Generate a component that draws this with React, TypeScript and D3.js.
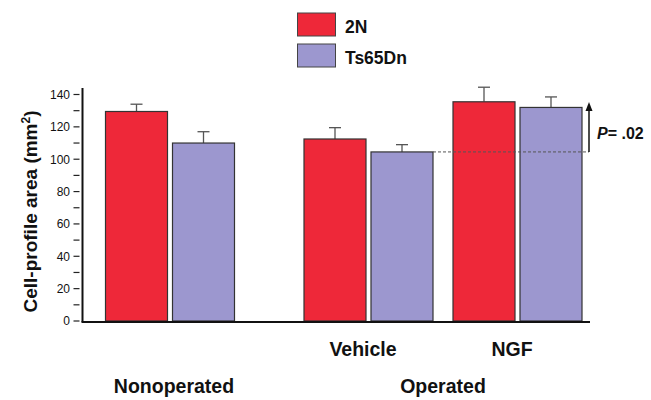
import React from "react";
import * as d3 from "d3";

const groups = ["Nonoperated", "Vehicle", "NGF"];
const groupSection = [0, 1, 1];
const sections = ["Nonoperated", "Operated"];
const series = ["2N", "Ts65Dn"];
const means2N = [129.5, 112.5, 135.5];
const meansTs = [110, 104.5, 132];
const err2N = [4.5, 7, 9];
const errTs = [7, 4.5, 6.5];
const yTicks = [0, 20, 40, 60, 80, 100, 120, 140];
const yMinorTicks = [10, 30, 50, 70, 90, 110, 130];
const colors = ["#EE2839", "#9C97CF"];

export default function App() {
  const W = 651, H = 400;
  const y = d3.scaleLinear().domain([0, 140]).range([321, 94.5]);
  const step = 149;
  const sectionGap = 49.5;
  const barW = 62;
  const inner = 5;
  const groupCenter = (i: number) => 170 + i * step + groupSection[i] * sectionGap;
  const font = "'Liberation Sans', Arial, sans-serif";
  const vals = [means2N, meansTs];
  const errs = [err2N, errTs];
  const refVal = meansTs[1];
  const sectionCenters = sections.map((_, s) => {
    const idx = groups.map((_, i) => i).filter((i) => groupSection[i] === s);
    return d3.mean(idx.map(groupCenter)) as number;
  });
  const arrowX = 589;
  const arrowTop = y(means2N[2] - 2);
  return (
    <svg width={W} height={H} style={{ position: "absolute", left: 0, top: 0 }} fontFamily={font}>
      <rect width={W} height={H} fill="#fff" />
      {/* legend */}
      {series.map((s, k) => (
        <g key={s}>
          <rect x={297.5} y={13 + k * 31} width={38} height={23} fill={colors[k]} stroke="#444" strokeWidth={1} />
          <text x={345} y={33 + k * 31} fontSize={17.5} fontWeight="bold" fill="#111">{s}</text>
        </g>
      ))}
      {/* bars */}
      {groups.map((g, i) =>
        series.map((s, k) => {
          const x0 = groupCenter(i) - barW - inner / 2 + k * (barW + inner);
          const v = vals[k][i];
          const e = errs[k][i];
          const cx = x0 + barW / 2;
          return (
            <g key={g + s}>
              <line x1={cx} x2={cx} y1={y(v)} y2={y(v + e)} stroke="#555" strokeWidth={1.3} />
              <line x1={cx - 6} x2={cx + 6} y1={y(v + e)} y2={y(v + e)} stroke="#555" strokeWidth={1.3} />
              <rect x={x0} y={y(v)} width={barW} height={y(0) - y(v)} fill={colors[k]} stroke="#333" strokeWidth={1.2} />
            </g>
          );
        })
      )}
      {/* dashed reference line */}
      <line x1={groupCenter(1) + barW + inner / 2} x2={arrowX} y1={y(refVal)} y2={y(refVal)} stroke="#555" strokeWidth={1} strokeDasharray="3,2" />
      <line x1={arrowX} x2={arrowX} y1={y(refVal)} y2={arrowTop + 4} stroke="#111" strokeWidth={1.5} />
      <path d={`M${arrowX - 3.5},${arrowTop + 6} L${arrowX},${arrowTop - 3} L${arrowX + 3.5},${arrowTop + 6} Z`} fill="#111" />
      <text x={597} y={139} fontSize={16} fontWeight="bold" fill="#111">
        <tspan fontStyle="italic">P</tspan>= .02
      </text>
      {/* axes */}
      <line x1={82.5} x2={82.5} y1={88} y2={322} stroke="#111" strokeWidth={2} />
      <line x1={81.5} x2={590} y1={322} y2={322} stroke="#111" strokeWidth={2} />
      {yTicks.map((t) => (
        <g key={t}>
          <line x1={73.5} x2={79.5} y1={y(t)} y2={y(t)} stroke="#222" strokeWidth={1.2} />
          <text x={70} y={y(t) + 4.3} fontSize={12} textAnchor="end" fill="#111">{t}</text>
        </g>
      ))}
      {yMinorTicks.map((t) => (
        <line key={t} x1={73.5} x2={79.5} y1={y(t)} y2={y(t)} stroke="#222" strokeWidth={1.2} />
      ))}
      <text transform={`translate(37,211.5) rotate(-90)`} fontSize={19} fontWeight="bold" textAnchor="middle" fill="#111">
        Cell-profile area (mm<tspan dy={-7} fontSize={12}>2</tspan><tspan dy={7}>)</tspan>
      </text>
      {/* category labels */}
      {groups.map((g, i) =>
        groupSection[i] === 1 ? (
          <text key={g} x={groupCenter(i) - 5.5} y={356} fontSize={19.5} fontWeight="bold" textAnchor="middle" fill="#111">{g}</text>
        ) : null
      )}
      {sections.map((s, j) => (
        <text key={s} x={sectionCenters[j] + (j === 0 ? 4 : 0)} y={393} fontSize={19.5} fontWeight="bold" textAnchor="middle" fill="#111">{s}</text>
      ))}
    </svg>
  );
}
